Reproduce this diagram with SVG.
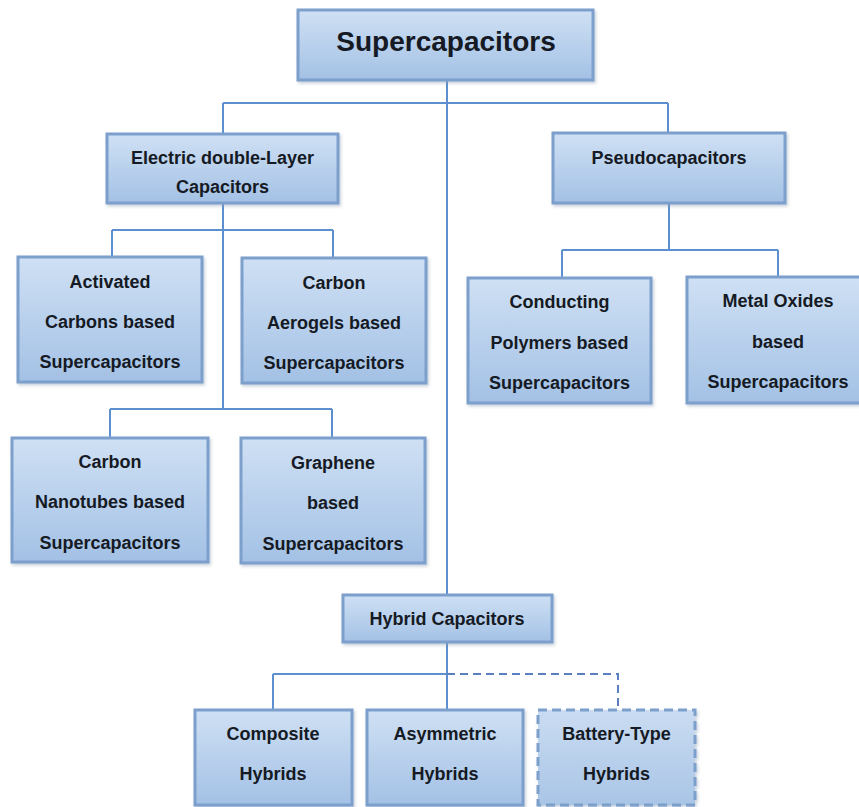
<svg xmlns="http://www.w3.org/2000/svg" width="859" height="807" viewBox="0 0 859 807">
<defs>
<linearGradient id="g" x1="0" y1="0" x2="0" y2="1">
<stop offset="0" stop-color="#cfe0f4"/>
<stop offset="1" stop-color="#a3c1e5"/>
</linearGradient>
<linearGradient id="g2" x1="0" y1="0" x2="0" y2="1">
<stop offset="0" stop-color="#cadcf2"/>
<stop offset="1" stop-color="#a9c5e6"/>
</linearGradient>
<filter id="sh" x="-10%" y="-10%" width="125%" height="130%">
<feDropShadow dx="1.5" dy="2" stdDeviation="1.5" flood-color="#8a9ab0" flood-opacity="0.45"/>
</filter>
</defs>
<style>
.box{fill:url(#g);stroke:#7c9fcc;stroke-width:3;filter:url(#sh)}
.dbox{fill:url(#g2);stroke:#7c9fcc;stroke-width:3;stroke-dasharray:9 5;filter:url(#sh)}
.t{font-family:"Liberation Sans",Arial,sans-serif;font-weight:bold;font-size:18px;fill:#151a24;text-anchor:middle}
.title{font-size:28px}
.c{fill:none;stroke:#5b8fd0;stroke-width:2}
.cd{fill:none;stroke:#5b7fc0;stroke-width:2;stroke-dasharray:8 5}
</style>
<rect width="859" height="807" fill="#ffffff"/>
<g id="connectors">
<path class="c" d="M447 80V595M223 103H668M223 103V134M668 103V133"/>
<path class="c" d="M223 203V409M112 230H333M112 230V257M333 230V258M110 409H332M110 409V438M332 409V438"/>
<path class="c" d="M669 203V250M562 250H778M562 250V278M778 250V277"/>
<path class="c" d="M447 642V710M273 674H447M273 674V710"/>
<path class="cd" d="M447 674H618V710"/>
</g>
<g id="n-super"><rect class="box" x="298" y="10" width="295" height="70"/><text class="t title" x="446" y="51">Supercapacitors</text></g>
<g id="n-edlc"><rect class="box" x="107" y="134" width="231" height="69"/><text class="t" x="222.5" y="164">Electric double-Layer</text><text class="t" x="222.5" y="193">Capacitors</text></g>
<g id="n-pseudo"><rect class="box" x="553" y="133" width="232" height="70"/><text class="t" x="669" y="164">Pseudocapacitors</text></g>
<g id="n-activated"><rect class="box" x="18" y="257" width="184" height="125"/><text class="t" x="110" y="288">Activated</text><text class="t" x="110" y="328">Carbons based</text><text class="t" x="110" y="368">Supercapacitors</text></g>
<g id="n-aerogels"><rect class="box" x="242" y="258" width="184" height="125"/><text class="t" x="334" y="289">Carbon</text><text class="t" x="334" y="329">Aerogels based</text><text class="t" x="334" y="369">Supercapacitors</text></g>
<g id="n-conducting"><rect class="box" x="468" y="278" width="183" height="125"/><text class="t" x="559.5" y="308">Conducting</text><text class="t" x="559.5" y="349">Polymers based</text><text class="t" x="559.5" y="389">Supercapacitors</text></g>
<g id="n-metal"><rect class="box" x="687" y="277" width="182" height="126"/><text class="t" x="778" y="307">Metal Oxides</text><text class="t" x="778" y="348">based</text><text class="t" x="778" y="388">Supercapacitors</text></g>
<g id="n-nanotubes"><rect class="box" x="12" y="438" width="196" height="124"/><text class="t" x="110" y="468">Carbon</text><text class="t" x="110" y="508">Nanotubes based</text><text class="t" x="110" y="549">Supercapacitors</text></g>
<g id="n-graphene"><rect class="box" x="241" y="438" width="184" height="125"/><text class="t" x="333" y="469">Graphene</text><text class="t" x="333" y="509">based</text><text class="t" x="333" y="550">Supercapacitors</text></g>
<g id="n-hybrid"><rect class="box" x="343" y="595" width="209" height="47"/><text class="t" x="447" y="625">Hybrid Capacitors</text></g>
<g id="n-composite"><rect class="box" x="195" y="710" width="157" height="95"/><text class="t" x="273" y="740">Composite</text><text class="t" x="273" y="780">Hybrids</text></g>
<g id="n-asymmetric"><rect class="box" x="367" y="710" width="156" height="95"/><text class="t" x="445" y="740">Asymmetric</text><text class="t" x="445" y="780">Hybrids</text></g>
<g id="n-battery"><rect class="dbox" x="538" y="710" width="157" height="95"/><text class="t" x="616.5" y="740">Battery-Type</text><text class="t" x="616.5" y="780">Hybrids</text></g>
</svg>
